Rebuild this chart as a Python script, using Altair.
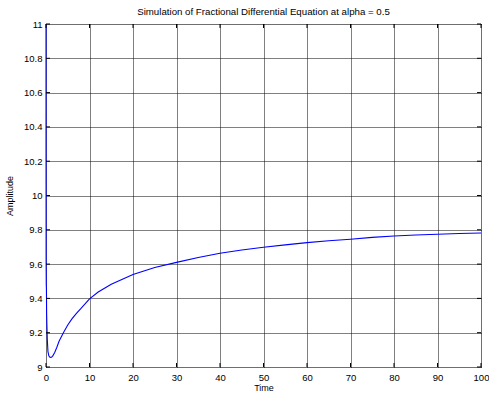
import altair as alt
import pandas as pd

time_vals = [0, 0.01, 0.03, 0.06, 0.1, 0.14, 0.2, 0.3, 0.45, 0.65, 0.9, 1.15, 1.5, 2, 2.5, 3, 4, 5, 6, 7, 8, 10,
             12, 15, 20, 25, 30, 35, 40, 45, 50, 55, 60, 65, 70, 75, 80, 85, 90, 95, 100]
amp_vals = [11.0, 10.2, 9.6, 9.48, 9.45, 9.32, 9.25, 9.16, 9.09, 9.065, 9.057, 9.056, 9.062, 9.085, 9.115, 9.15,
            9.2, 9.245, 9.282, 9.313, 9.34, 9.397, 9.437, 9.482, 9.54, 9.58, 9.61, 9.638, 9.663, 9.682, 9.698,
            9.712, 9.725, 9.736, 9.745, 9.756, 9.764, 9.77, 9.774, 9.778, 9.781]

x_ticks = [0, 10, 20, 30, 40, 50, 60, 70, 80, 90, 100]
y_ticks = [9, 9.2, 9.4, 9.6, 9.8, 10, 10.2, 10.4, 10.6, 10.8, 11]

df = pd.DataFrame({"t": time_vals, "a": amp_vals})
xt = pd.DataFrame({"v": x_ticks})
yt = pd.DataFrame({"v": y_ticks})

W, H = 435, 343
FONT = "Liberation Sans"

xscale = alt.Scale(domain=[0, 100], nice=False, zero=False)
yscale = alt.Scale(domain=[9, 11], nice=False, zero=False)

common_axis = dict(grid=True, gridColor="black", gridDash=[1, 1], gridOpacity=1, gridWidth=1,
                   tickSize=0, domain=False, labelFontSize=9.5, titleFontSize=9,
                   titleFontWeight="normal", labelFont=FONT, titleFont=FONT,
                   labelColor="black", titleColor="black", labelOverlap=False, labelFlush=False)

xaxis = alt.Axis(values=x_ticks, labelPadding=5, titlePadding=2, title="Time", **common_axis)
yaxis = alt.Axis(values=y_ticks, labelPadding=4, titlePadding=9, format="~g", title="Amplitude", **common_axis)

line = alt.Chart(df).mark_line(color="#0000FF", strokeWidth=1.1, clip=False).encode(
    x=alt.X("t:Q", scale=xscale, axis=xaxis),
    y=alt.Y("a:Q", scale=yscale, axis=yaxis),
)

xt_bottom = alt.Chart(xt).mark_rule(color="black", strokeWidth=1).encode(
    x=alt.X("v:Q", scale=xscale, axis=xaxis), y=alt.value(H), y2=alt.value(H - 4))
xt_top = alt.Chart(xt).mark_rule(color="black", strokeWidth=1).encode(
    x=alt.X("v:Q", scale=xscale, axis=xaxis), y=alt.value(0), y2=alt.value(4))
yt_left = alt.Chart(yt).mark_rule(color="black", strokeWidth=1).encode(
    y=alt.Y("v:Q", scale=yscale, axis=yaxis), x=alt.value(0), x2=alt.value(4))
yt_right = alt.Chart(yt).mark_rule(color="black", strokeWidth=1).encode(
    y=alt.Y("v:Q", scale=yscale, axis=yaxis), x=alt.value(W), x2=alt.value(W - 4))

chart = alt.layer(line, xt_bottom, xt_top, yt_left, yt_right).properties(
    width=W, height=H,
    title=alt.TitleParams("Simulation of Fractional Differential Equation at alpha = 0.5",
                          fontSize=9.7, fontWeight="normal", font=FONT, color="black", offset=2, anchor="middle"),
    autosize=alt.AutoSizeParams(type="none"),
    padding={"left": 46, "top": 24, "right": 8, "bottom": 29},
).configure_view(stroke="black", strokeWidth=1.5).configure(background="white")

chart.save("out.html", embed_options={"renderer": "svg", "actions": False})
